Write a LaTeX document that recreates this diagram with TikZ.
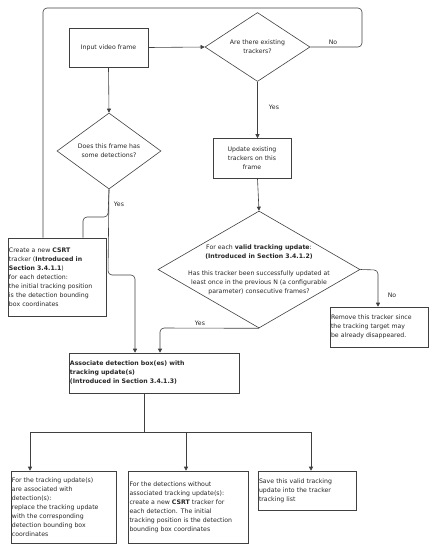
\documentclass[tikz,border=0pt]{standalone}
\usepackage{fontspec}
\setmainfont{DejaVu Sans}
\usetikzlibrary{shapes.geometric,arrows.meta}

\begin{document}
\begin{tikzpicture}[x=1pt,y=-1pt,
		font=\fontsize{6.2}{9}\selectfont, text=black!85,
		line/.style={draw=black!75, line width=0.6pt, rounded corners=4pt},
		arrow/.style={line, -{Triangle[length=4pt,width=4pt]}},
		box/.style={draw=black!75, line width=0.6pt, rectangle, inner sep=1pt},
		textbox/.style={box, align=left, text width=#1},
		decision/.style={draw=black!75, line width=0.6pt, diamond, inner sep=0pt, align=center}]
	\useasboundingbox (0,0) rectangle (436,550);
	% nodes
	\node[box, minimum width=79pt, minimum height=39pt, align=center] (input) at (108.5,47.5) {Input video frame};
	\node[decision, minimum width=105pt, minimum height=52pt] (trackers) at (257.5,47) {Are there existing\\trackers?};
	\node[decision, minimum width=104pt, minimum height=64pt] (detections) at (109,151) {Does this frame has\\some detections?};
	\node[box, minimum width=78pt, minimum height=40pt, align=center] (update) at (252,158.5) {Update existing\\trackers on this\\frame};
	\node[decision, minimum width=202pt, minimum height=117pt] (valid) at (259,269.5) {};
	\node[align=center, font=\fontsize{6.2}{8.8}\selectfont] (validtext) at (valid.center) {For each \textbf{valid tracking update}:\\\textbf{(Introduced in Section 3.4.1.2)}\\[8.8pt]Has this tracker been successfully updated at\\least once in the previous N (a configurable\\parameter) consecutive frames?};
	\node[textbox=96pt, minimum width=98pt, minimum height=78pt] (csrt) at (57,277) {Create a new \textbf{CSRT}\\tracker (\textbf{Introduced in}\\\textbf{Section 3.4.1.1})\\for each detection:\\the initial tracking position\\is the detection bounding\\box coordinates};
	\node[textbox=96pt, minimum width=98pt, minimum height=40pt] (remove) at (379,327) {Remove this tracker since\\the tracking target may\\be already disappeared.};
	\node[textbox=168pt, minimum width=170pt, minimum height=40pt, font=\fontsize{6.2}{9}\selectfont\bfseries] (associate) at (154,373) {Associate detection box(es) with\\tracking update(s)\\(Introduced in Section 3.4.1.3)};
	\node[textbox=103pt, minimum width=105pt, minimum height=72pt] (replace) at (63.5,507) {For the tracking update(s)\\are associated with\\detection(s):\\replace the tracking update\\with the corresponding\\detection bounding box\\coordinates};
	\node[textbox=118pt, minimum width=120pt, minimum height=72pt] (newtracker) at (188.5,507) {For the detections without\\associated tracking update(s):\\create a new \textbf{CSRT} tracker for\\each detection. The initial\\tracking position is the detection\\bounding box coordinates};
	\node[textbox=96pt, minimum width=98pt, minimum height=39pt] (save) at (307,490.5) {Save this valid tracking\\update into the tracker\\tracking list};
	% connectors
	\draw[arrow] (input.east) -- (trackers.west);
	\draw[arrow] (input.south) -- (detections.north);
	\draw[arrow] (trackers.south) -- (trackers.south |- update.north);
	\draw[arrow] (trackers.south |- update.south) -- (valid.north);
	\draw[line] (trackers.east) -- (362,47) -- (362,8) -- (43,8) -- (43,0 |- csrt.north);
	\draw[line] (detections.south) -- (108,217) -- (83,217) -- (83,0 |- csrt.north);
	\draw[arrow] (detections.south) -- (108,275) -- (135,275) -- (135,0 |- associate.north);
	\draw[arrow] (valid.south) -- (160,328) -- (160,0 |- associate.north);
	\draw[arrow] (valid.east) -- (378,270) -- (378,0 |- remove.north);
	\draw[line] (associate.south -| 144,0) -- (144,432);
	\draw[line] (30,432) -- (311,432);
	\draw[arrow] (30,432) -- (30,0 |- replace.north);
	\draw[arrow] (186,432) -- (186,0 |- newtracker.north);
	\draw[arrow] (311,432) -- (311,0 |- save.north);
	% labels
	\node (trackersno) at (333,42) {No};
	\node (trackersyes) at (274,107) {Yes};
	\node (detectionsyes) at (119,204) {Yes};
	\node (validyes) at (200,323) {Yes};
	\node (validno) at (392,295) {No};
\end{tikzpicture}
\end{document}
